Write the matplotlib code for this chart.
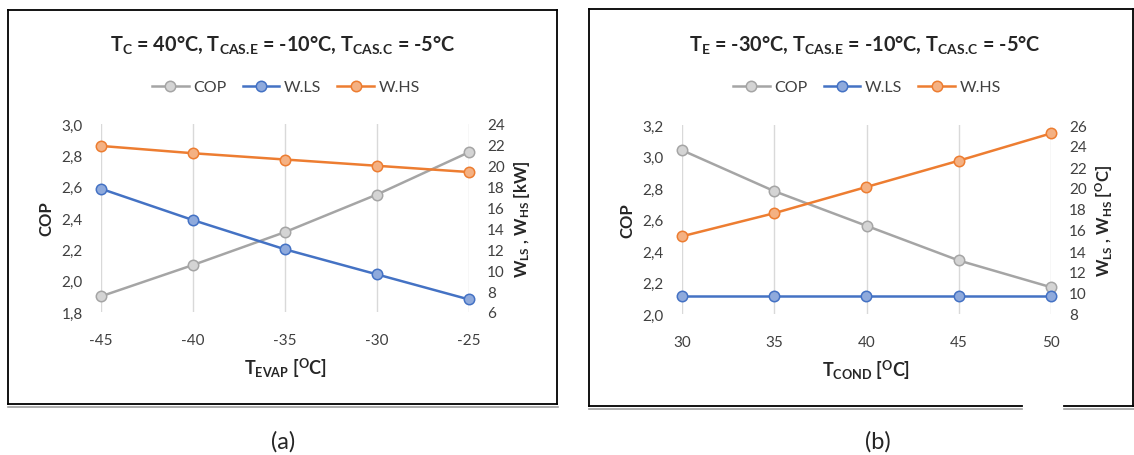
import matplotlib
matplotlib.use("Agg")
import matplotlib.pyplot as plt
from matplotlib.lines import Line2D
from matplotlib.ticker import FuncFormatter, MultipleLocator

plt.rcParams['font.family'] = ['Lato', 'DejaVu Sans']
plt.rcParams['mathtext.fontset'] = 'custom'
plt.rcParams['mathtext.rm'] = 'Lato'
plt.rcParams['mathtext.it'] = 'Lato:italic'
plt.rcParams['mathtext.bf'] = 'Lato:bold'

# ---------------- data ----------------
t_evap = [-45, -40, -35, -30, -25]
cop_a = [1.90, 2.10, 2.31, 2.55, 2.82]
wls_a = [17.8, 14.8, 12.0, 9.6, 7.2]
whs_a = [21.9, 21.2, 20.6, 20.0, 19.4]

t_cond = [30, 35, 40, 45, 50]
cop_b = [3.04, 2.78, 2.56, 2.34, 2.17]
wls_b = [9.7, 9.7, 9.7, 9.7, 9.7]
whs_b = [15.4, 17.6, 20.1, 22.6, 25.2]

series_labels = ['COP', 'W.LS', 'W.HS']
title_a = r'T$_{\mathbf{C}}$ = 40°C, T$_{\mathbf{CAS.\!E}}$ = -10°C, T$_{\mathbf{CAS.\!C}}$ = -5°C'
title_b = r'T$_{\mathbf{E}}$ = -30°C, T$_{\mathbf{CAS.\!E}}$ = -10°C, T$_{\mathbf{CAS.\!C}}$ = -5°C'
xlabel_a = r'T$_{\mathbf{EVAP}}$ [$^{\mathbf{O}}$C]'
xlabel_b = r'T$_{\mathbf{COND}}$ [$^{\mathbf{O}}$C]'
ylabel_left = 'COP'
ylabel_right_a = r'W$_{\mathbf{LS}}$ , W$_{\mathbf{HS}}$ [kW]'
ylabel_right_b = r'W$_{\mathbf{LS}}$ , W$_{\mathbf{HS}}$ [$^{\mathbf{O}}$C]'
panel_labels = ['(a)', '(b)']

# ---------------- style ----------------
W, H = 1134, 456
fig = plt.figure(figsize=(W / 100, H / 100), dpi=100)

def fx(px):
    return px / W

def fy(py):
    return 1 - py / H

col_cop = ('#A5A5A5', '#D4D4D4')
col_wls = ('#4472C4', '#8FAADC')
col_whs = ('#ED7D31', '#F4B183')

TICK_FS = 11
LEG_FS = 11.5

def comma(v, pos):
    return f'{v:.1f}'.replace('.', ',')

def make_panel(rect, x, cop, wls, whs, ylim_l, ylim_r, title, xlabel, ylab_r,
               title_c, leg_c, cop_ticks, r_ticks):
    ax = fig.add_axes(rect)
    ax2 = ax.twinx()
    ax.set_xlim(x[0], x[-1])
    ax.set_ylim(*ylim_l)
    ax2.set_ylim(*ylim_r)
    ax.set_xticks(x)
    ax.set_xticklabels([str(v) for v in x])
    ax.yaxis.set_major_locator(MultipleLocator(cop_ticks))
    ax.yaxis.set_major_formatter(FuncFormatter(comma))
    ax2.yaxis.set_major_locator(MultipleLocator(r_ticks))
    for a in (ax, ax2):
        for s in a.spines.values():
            s.set_visible(False)
        a.tick_params(length=0, labelsize=TICK_FS, colors='#404040')
    ax.tick_params(axis='y', pad=13)
    ax2.tick_params(axis='y', pad=13)
    ax.tick_params(axis='x', pad=15)
    ax.grid(axis='x', color='#D9D9D9', lw=1)
    ax.set_axisbelow(True)

    l1, = ax.plot(x, cop, color=col_cop[0], lw=1.8, marker='o', ms=7.5,
                  mfc=col_cop[1], mec=col_cop[0], mew=1.1, clip_on=False, zorder=3)
    l2, = ax2.plot(x, wls, color=col_wls[0], lw=1.8, marker='o', ms=7.5,
                   mfc=col_wls[1], mec=col_wls[0], mew=1.1, clip_on=False, zorder=3)
    l3, = ax2.plot(x, whs, color=col_whs[0], lw=1.8, marker='o', ms=7.5,
                   mfc=col_whs[1], mec=col_whs[0], mew=1.1, clip_on=False, zorder=3)

    ax.set_xlabel(xlabel, fontsize=13, fontweight='bold', color='#262626', labelpad=6)
    ax.set_ylabel(ylabel_left, fontsize=12, fontweight='bold', color='#262626', labelpad=5)
    ax2.set_ylabel(ylab_r, fontsize=12, fontweight='bold', color='#262626', labelpad=5)

    fig.text(fx(title_c[0]), fy(title_c[1]), title, ha='center', va='center',
             fontsize=14.3, fontweight='bold', color='#262626')
    fig.legend([l1, l2, l3], series_labels, loc='center', ncol=3,
               bbox_to_anchor=(fx(leg_c[0]), fy(leg_c[1])), frameon=False,
               fontsize=LEG_FS, handlelength=2.3, columnspacing=1.0,
               handletextpad=0.3, labelcolor='#404040')
    return ax, ax2

ax_a = make_panel([fx(101), fy(313), fx(469) - fx(101), fy(125) - fy(313)],
                  t_evap, cop_a, wls_a, whs_a, (1.8, 3.0), (6, 24),
                  title_a, xlabel_a, ylabel_right_a, (283, 45), (286, 88), 0.2, 2)
ax_b = make_panel([fx(682), fy(315), fx(1051) - fx(682), fy(126) - fy(315)],
                  t_cond, cop_b, wls_b, whs_b, (2.0, 3.2), (8, 26),
                  title_b, xlabel_b, ylabel_right_b, (865, 45), (867, 88), 0.2, 2)

# panel borders
def hline(x0, x1, y, color, lw):
    fig.add_artist(Line2D([fx(x0), fx(x1)], [fy(y), fy(y)], color=color, lw=lw,
                          transform=fig.transFigure))

def vline(x, y0, y1, color, lw):
    fig.add_artist(Line2D([fx(x), fx(x)], [fy(y0), fy(y1)], color=color, lw=lw,
                          transform=fig.transFigure))

# (a)
hline(8, 557, 10.5, 'black', 1.3)
hline(8, 557, 405, 'black', 1.3)
hline(8, 558, 407.5, '#A0A0A0', 1.2)
vline(8, 10.5, 405, 'black', 1.3)
vline(557, 10.5, 405, 'black', 1.3)
# (b)
hline(589, 1134, 9.5, 'black', 1.3)
hline(589, 1022, 407, 'black', 1.3)
hline(1064, 1134, 407, 'black', 1.3)
hline(589, 1022, 409.5, '#A0A0A0', 1.2)
hline(1064, 1134, 409.5, '#A0A0A0', 1.2)
vline(589, 9.5, 407, 'black', 1.3)
vline(1133, 9.5, 407, 'black', 1.3)

fig.text(fx(283), fy(442), panel_labels[0], ha='center', va='center', fontsize=17, color='#262626')
fig.text(fx(878), fy(442), panel_labels[1], ha='center', va='center', fontsize=17, color='#262626')

fig.savefig('out.png', dpi=100, facecolor='white')
